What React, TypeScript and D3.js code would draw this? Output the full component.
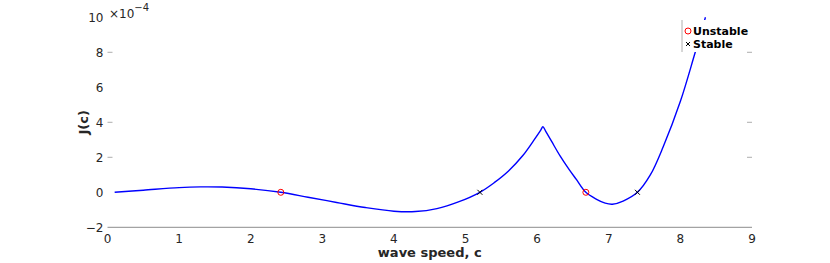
import React from 'react';
import * as d3 from 'd3';

// wave speed c and J(c) in units of 1e-4
const cValues = [0.1, 0.5, 1.0, 1.3, 1.6, 2.0, 2.42, 2.8, 3.2, 3.6, 4.0, 4.3, 4.6, 4.9, 5.2, 5.4, 5.6, 5.8, 5.95, 6.05, 6.08, 6.12, 6.2, 6.32, 6.45, 6.55, 6.68, 6.83, 6.95, 7.05, 7.2, 7.4, 7.58, 7.76, 8.0, 8.2, 8.35];
const jValues = [0.0, 0.12, 0.27, 0.31, 0.3, 0.2, 0.0, -0.28, -0.58, -0.87, -1.08, -1.1, -0.93, -0.55, 0.0, 0.55, 1.22, 2.1, 2.95, 3.55, 3.75, 3.48, 2.92, 2.08, 1.28, 0.72, 0.0, -0.4, -0.62, -0.68, -0.5, 0.0, 0.99, 2.6, 5.2, 7.9, 10.0];

const unstableC = [2.42, 6.68];
const unstableJ = [0, 0];
const stableC = [5.2, 7.4];
const stableJ = [0, 0];

const xTicks = [0, 1, 2, 3, 4, 5, 6, 7, 8, 9];
const yTicks = [-2, 0, 2, 4, 6, 8, 10];
const yTickMarks = [2, 4, 8];

export default function App() {
  const width = 830, height = 263;
  const margin = { left: 107.5, right: 78, top: 17.3, bottom: 35.7 };
  const font = 'DejaVu Sans, sans-serif';

  const x = d3.scaleLinear().domain([0, 9]).range([margin.left, width - margin.right]);
  const y = d3.scaleLinear().domain([-2, 10]).range([height - margin.bottom, margin.top]);

  const data = cValues.map((c, i) => ({ c, j: jValues[i] }));
  const line = d3.line<{ c: number; j: number }>()
    .x(d => x(d.c))
    .y(d => y(d.j))
    .curve(d3.curveCatmullRom.alpha(0.5));

  const x0 = x(0), x1 = x(9), yb = y(-2);
  const lx = 682, ly = 20;

  return (
    <svg width={width} height={height} style={{ position: 'absolute', left: 0, top: 0 }}>
      <rect width={width} height={height} fill="#fff" />
      <defs>
        <clipPath id="plot">
          <rect x={x0} y={0} width={x1 - x0} height={yb} />
        </clipPath>
      </defs>
      {/* bottom axis line */}
      <line x1={x0} x2={x1} y1={yb} y2={yb} stroke="#8c8c8c" strokeWidth={1} />
      {yTickMarks.map(t => (
        <g key={'tm' + t}>
          <line x1={x0} x2={x0 + 5} y1={y(t)} y2={y(t)} stroke="#999" strokeWidth={0.8} />
          <line x1={x1 - 5} x2={x1} y1={y(t)} y2={y(t)} stroke="#999" strokeWidth={0.8} />
        </g>
      ))}
      {xTicks.map(t => (
        <text key={'xt' + t} x={x(t)} y={yb + 16} textAnchor="middle" fontFamily={font} fontSize={12} fill="#262626">{t}</text>
      ))}
      {yTicks.map(t => (
        <text key={'yt' + t} x={x0 - 4} y={y(t) + 4.5} textAnchor="end" fontFamily={font} fontSize={12} fill="#262626">
          {t < 0 ? '\u2212' + Math.abs(t) : t}
        </text>
      ))}
      <text x={109} y={18} fontFamily={font} fontSize={12} fill="#262626">
        ×10<tspan dy={-7} fontSize={10}>−4</tspan>
      </text>
      <text x={(x0 + x1) / 2} y={257} textAnchor="middle" fontFamily={font} fontSize={13} fontWeight="bold" fill="#262626">wave speed, c</text>
      <text transform={`translate(88,${(y(-2) + y(10)) / 2}) rotate(-90)`} textAnchor="middle" fontFamily={font} fontSize={13} fontWeight="bold" fill="#262626">J(c)</text>

      <g clipPath="url(#plot)">
        <path d={line(data) || ''} fill="none" stroke="#0000ff" strokeWidth={1.4} />
      </g>
      {unstableC.map((c, i) => (
        <circle key={'u' + i} cx={x(c)} cy={y(unstableJ[i])} r={3} fill="none" stroke="#ff0000" strokeWidth={1} />
      ))}
      {stableC.map((c, i) => (
        <path key={'s' + i} d={`M${x(c) - 2.5},${y(stableJ[i]) - 2.5}L${x(c) + 2.5},${y(stableJ[i]) + 2.5}M${x(c) - 2.5},${y(stableJ[i]) + 2.5}L${x(c) + 2.5},${y(stableJ[i]) - 2.5}`} stroke="#000" strokeWidth={1} />
      ))}

      {/* legend */}
      <rect x={lx} y={ly} width={64} height={32} fill="#fff" />
      <line x1={lx} x2={lx} y1={ly} y2={ly + 32} stroke="#999" strokeWidth={0.8} />
      <circle cx={lx + 6} cy={ly + 11} r={3} fill="none" stroke="#ff0000" strokeWidth={1} />
      <text x={lx + 11} y={ly + 15} fontFamily={font} fontSize={11} fontWeight="bold" fill="#000">Unstable</text>
      <path d={`M${lx + 4},${ly + 22}L${lx + 8},${ly + 26}M${lx + 4},${ly + 26}L${lx + 8},${ly + 22}`} stroke="#000" strokeWidth={1} />
      <text x={lx + 11} y={ly + 28} fontFamily={font} fontSize={11} fontWeight="bold" fill="#000">Stable</text>
    </svg>
  );
}
